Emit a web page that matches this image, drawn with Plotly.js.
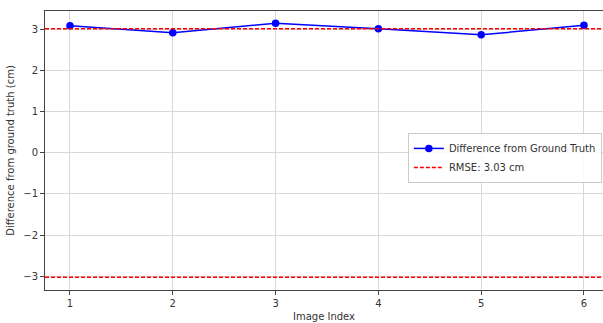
<!DOCTYPE html>
<html><head><meta charset="utf-8">
<script src="https://cdn.plot.ly/plotly-3.0.1.min.js"></script>
<style>html,body{margin:0;padding:0;background:#fff;overflow:hidden}#chart{width:603px;height:323px}</style>
</head><body><div id="chart"></div>
<script>
const imageIndex = [1, 2, 3, 4, 5, 6];
const differences = [3.10, 2.93, 3.16, 3.03, 2.88, 3.11];
const rmse = 3.03;
const xTicks = [1, 2, 3, 4, 5, 6];
const yTicks = [-3, -2, -1, 0, 1, 2, 3];

const xr = [0.757, 6.185];
const traces = [
  {x: imageIndex, y: differences, mode: 'lines+markers', name: 'Difference from Ground Truth',
   line: {color: '#0000ff', width: 1.5}, marker: {color: '#0000ff', size: 7.5}},
  {x: xr, y: [rmse, rmse], mode: 'lines', name: 'RMSE: ' + rmse.toFixed(2) + ' cm',
   line: {color: '#ff0000', width: 1.5, dash: '4px,2px'}},
  {x: xr, y: [-rmse, -rmse], mode: 'lines', showlegend: false,
   line: {color: '#ff0000', width: 1.5, dash: '4px,2px'}}
];
const axisCommon = {showgrid: true, gridcolor: '#d8d8d8', gridwidth: 1, zeroline: false,
  showline: true, linecolor: '#444', linewidth: 1,
  ticks: 'outside', ticklen: 4, tickcolor: '#444', tickfont: {size: 10, color: '#333'}};
const layout = {
  width: 603, height: 323,
  margin: {l: 45, r: 0, t: 11, b: 33, autoexpand: false},
  font: {family: 'DejaVu Sans, sans-serif', color: '#333'},
  paper_bgcolor: '#fff', plot_bgcolor: '#fff',
  xaxis: Object.assign({}, axisCommon, {range: xr, tickvals: xTicks, mirror: true,
    title: {text: 'Image Index', font: {size: 10}, standoff: 4}}),
  yaxis: Object.assign({}, axisCommon, {range: [-3.34, 3.46], tickvals: yTicks, mirror: false,
    title: {text: 'Difference from ground truth (cm)', font: {size: 10}, standoff: 6}}),
  legend: {x: 0.998, y: 0.563, xanchor: 'right', yanchor: 'top', bgcolor: 'rgba(255,255,255,0.85)',
    bordercolor: '#ccc', borderwidth: 1, font: {size: 10, color: '#333'}, tracegroupgap: 0,
    itemwidth: 30},
  showlegend: true
};
Plotly.newPlot('chart', traces, layout, {displayModeBar: false, staticPlot: true});
</script></body></html>
